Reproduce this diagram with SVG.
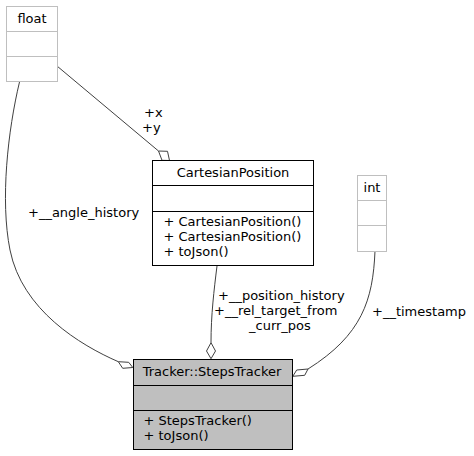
<svg xmlns="http://www.w3.org/2000/svg" width="474" height="456" viewBox="0 0 474 456">
<style>
text{font-family:"DejaVu Sans","Liberation Sans",sans-serif;font-size:13px;fill:#000}
.c{text-anchor:middle}
.box{fill:#fff;stroke:#000;stroke-width:1}
.gbox{fill:#fff;stroke:#bfbfbf;stroke-width:1}
.sel{fill:#bfbfbf;stroke:#000;stroke-width:1}
.edge{fill:none;stroke:#404040;stroke-width:1}
.dia{fill:#fff;stroke:#404040;stroke-width:1}
</style>
<rect width="474" height="456" fill="#fff"/>
<g id="connectors">
<path class="edge" d="M57,66 L158.5,151"/>
<polygon class="dia" points="158.5,151 167.5,151.3 169.5,160.5 162,160.3"/>
<path class="edge" d="M19.5,82 C8,130 0,200 10,250 C22,310 80,345 118.3,361.7"/>
<polygon class="dia" points="118.3,361.7 128.7,362.3 132.8,367.5 122.7,368.3"/>
<path class="edge" d="M217,266 C214,290 211,315 211,342.7"/>
<polygon class="dia" points="211,342.7 215.5,351 211,358.7 206.5,351"/>
<path class="edge" d="M375,251 C373,300 362,335 308,369"/>
<polygon class="dia" points="308,369 296.7,370 292.8,376.3 304.7,375.3"/>
<text x="144" y="117">+x</text>
<text x="142" y="132">+y</text>
<text x="28" y="217">+__angle_history</text>
<text x="218" y="300">+__position_history</text>
<text x="214" y="315">+__rel_target_from</text>
<text x="249" y="330">_curr_pos</text>
<text x="372" y="316">+__timestamp</text>
</g>
<g id="float">
<rect class="gbox" x="6.5" y="6.5" width="51" height="75"/>
<line class="gbox" x1="6.5" y1="31.5" x2="57.5" y2="31.5"/>
<line class="gbox" x1="6.5" y1="56.5" x2="57.5" y2="56.5"/>
<text class="c" x="32" y="23">float</text>
</g>
<g id="int">
<rect class="gbox" x="357.5" y="175.5" width="29" height="76"/>
<line class="gbox" x1="357.5" y1="200.5" x2="386.5" y2="200.5"/>
<line class="gbox" x1="357.5" y1="225.5" x2="386.5" y2="225.5"/>
<text class="c" x="372" y="192">int</text>
</g>
<g id="CartesianPosition">
<rect class="box" x="152.5" y="160.5" width="161" height="105"/>
<line class="box" x1="152.5" y1="185.5" x2="313.5" y2="185.5"/>
<line class="box" x1="152.5" y1="211.5" x2="313.5" y2="211.5"/>
<text class="c" x="233" y="177">CartesianPosition</text>
<text x="163.5" y="226">+ CartesianPosition()</text>
<text x="163.5" y="241">+ CartesianPosition()</text>
<text x="163.5" y="256">+ toJson()</text>
</g>
<g id="StepsTracker">
<rect class="sel" x="133.5" y="359.5" width="159" height="90"/>
<line class="sel" x1="133.5" y1="385.5" x2="292.5" y2="385.5"/>
<line class="sel" x1="133.5" y1="410.5" x2="292.5" y2="410.5"/>
<text class="c" x="212" y="376">Tracker::StepsTracker</text>
<text x="143.5" y="425">+ StepsTracker()</text>
<text x="143.5" y="440">+ toJson()</text>
</g>
</svg>
